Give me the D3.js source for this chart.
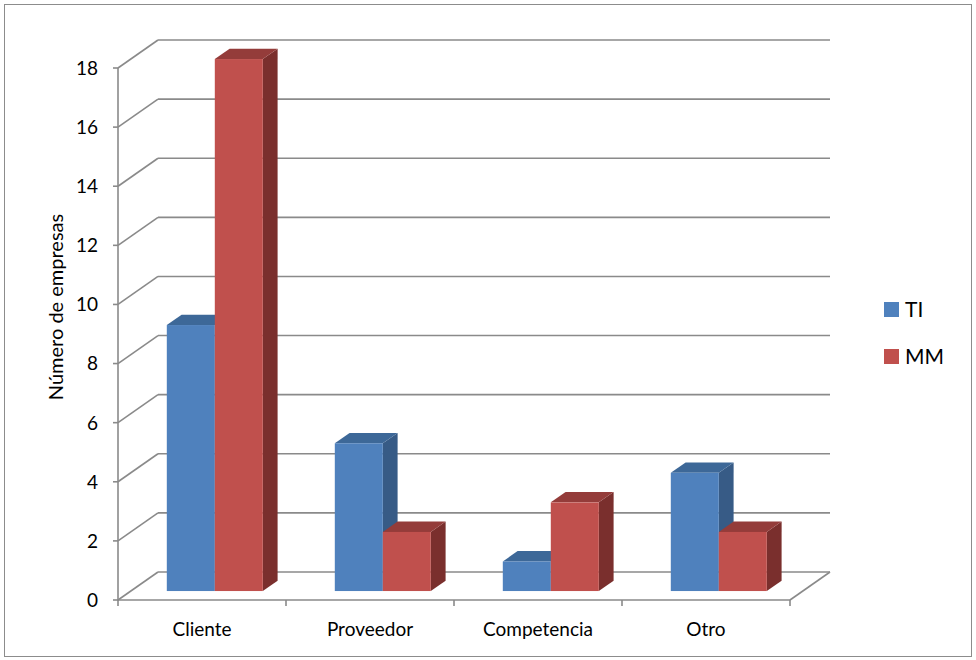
<!DOCTYPE html>
<html>
<head>
<meta charset="utf-8">
<script src="https://cdn.jsdelivr.net/npm/d3@7/dist/d3.min.js"></script>
<style>
  html, body { margin: 0; padding: 0; background: #fff; }
  svg { display: block; font-family: Lato, "Open Sans", sans-serif; }
</style>
</head>
<body>
<svg id="chart" width="976" height="660"></svg>
<script>
// Chart data
const categories = ["Cliente", "Proveedor", "Competencia", "Otro"];
const seriesNames = ["TI", "MM"];
const valuesTI = [9, 5, 1, 4];
const valuesMM = [18, 2, 3, 2];
const yTicks = [0, 2, 4, 6, 8, 10, 12, 14, 16, 18];
const yTitle = "Número de empresas";

const seriesValues = { TI: valuesTI, MM: valuesMM };
const palette = {
  TI: { front: "#4f81bd", side: "#375b86", top: "#3d6898" },
  MM: { front: "#c0504d", side: "#7a2f2d", top: "#943c3a" }
};

const svg = d3.select("#chart");

// Plot frame: front plane of the box and the depth offset to the back wall
const plotLeft = 118, plotRight = 790, plotBottom = 600, plotTop = 68;
const depthX = 40, depthY = -28;
const off = d => [depthX * d, depthY * d];

const y = d3.scaleLinear().domain([0, 18]).range([plotBottom, plotTop]);
const x0 = d3.scaleBand().domain(categories).range([plotLeft, plotRight]).padding(0);
const x1 = d3.scaleBand().domain(seriesNames).range([0, x0.bandwidth()])
  .paddingInner(0).paddingOuter(0.75);

const gridColor = "#8a8a8a";

// Outer border
svg.append("rect")
  .attr("x", 4.5).attr("y", 4.5).attr("width", 967).attr("height", 652)
  .attr("fill", "none").attr("stroke", "#8c8c8c").attr("stroke-width", 1);

// Back wall gridlines and side-wall diagonals
const grid = svg.append("g").attr("stroke", gridColor).attr("stroke-width", 1.6).attr("fill", "none");
yTicks.forEach(t => {
  const [bx, by] = off(1);
  grid.append("line")
    .attr("x1", plotLeft + bx).attr("x2", plotRight + bx)
    .attr("y1", y(t) + by).attr("y2", y(t) + by);
  grid.append("line")
    .attr("x1", plotLeft).attr("y1", y(t))
    .attr("x2", plotLeft + bx).attr("y2", y(t) + by);
});
// Floor right edge
grid.append("line")
  .attr("x1", plotRight).attr("y1", y(0))
  .attr("x2", plotRight + depthX).attr("y2", y(0) + depthY);

// Front axes
const axes = svg.append("g").attr("stroke", gridColor).attr("stroke-width", 1.6);
axes.append("line").attr("x1", plotLeft).attr("x2", plotLeft).attr("y1", y(18)).attr("y2", y(0) + 1);
axes.append("line").attr("x1", plotLeft).attr("x2", plotRight).attr("y1", y(0)).attr("y2", y(0));
yTicks.forEach(t => {
  axes.append("line").attr("x1", plotLeft - 5).attr("x2", plotLeft).attr("y1", y(t)).attr("y2", y(t));
});
const catEdges = categories.map(c => x0(c)).concat([plotRight]);
catEdges.forEach(xv => {
  axes.append("line").attr("x1", xv).attr("x2", xv).attr("y1", y(0)).attr("y2", y(0) + 6);
});

// Tick labels
svg.append("g").selectAll("text").data(yTicks).join("text")
  .attr("x", 98).attr("y", d => y(d))
  .attr("dy", "0.36em")
  .attr("text-anchor", "end")
  .attr("font-size", 19).attr("fill", "#000")
  .text(d => d);

svg.append("g").selectAll("text").data(categories).join("text")
  .attr("x", d => x0(d) + x0.bandwidth() / 2)
  .attr("y", 636)
  .attr("text-anchor", "middle")
  .attr("font-size", 19).attr("fill", "#000")
  .text(d => d);

svg.append("text")
  .attr("transform", "translate(63,307) rotate(-90)")
  .attr("text-anchor", "middle")
  .attr("font-size", 20).attr("fill", "#000")
  .text(yTitle);

// 3D bars: front plane at depth d0, back plane at depth d1
const d0 = 0.32, d1 = 0.69;
const bars = svg.append("g");
categories.forEach((cat, i) => {
  seriesNames.forEach(s => {
    const v = seriesValues[s][i];
    const [fx, fy] = off(d0);
    const [bx, by] = off(d1);
    const xa = x0(cat) + x1(s) + fx;
    const xb = xa + x1.bandwidth();
    const ya = y(v) + fy;
    const yb = y(0) + fy;
    const ddx = bx - fx, ddy = by - fy;
    const c = palette[s];
    // right side face
    bars.append("path")
      .attr("d", `M${xb},${ya} L${xb + ddx},${ya + ddy} L${xb + ddx},${yb + ddy} L${xb},${yb} Z`)
      .attr("fill", c.side);
    // top face
    bars.append("path")
      .attr("d", `M${xa},${ya} L${xa + ddx},${ya + ddy} L${xb + ddx},${ya + ddy} L${xb},${ya} Z`)
      .attr("fill", c.top);
    // front face
    bars.append("rect")
      .attr("x", xa).attr("y", ya)
      .attr("width", x1.bandwidth()).attr("height", yb - ya)
      .attr("fill", c.front);
  });
});

// Legend
const legend = svg.append("g");
seriesNames.forEach((s, i) => {
  const ly = 309 + i * 47;
  legend.append("rect")
    .attr("x", 884).attr("y", ly - 7).attr("width", 15).attr("height", 15)
    .attr("fill", palette[s].front);
  legend.append("text")
    .attr("x", 905).attr("y", ly).attr("dy", "0.36em")
    .attr("font-size", 21).attr("fill", "#000")
    .text(s);
});
</script>
</body>
</html>
